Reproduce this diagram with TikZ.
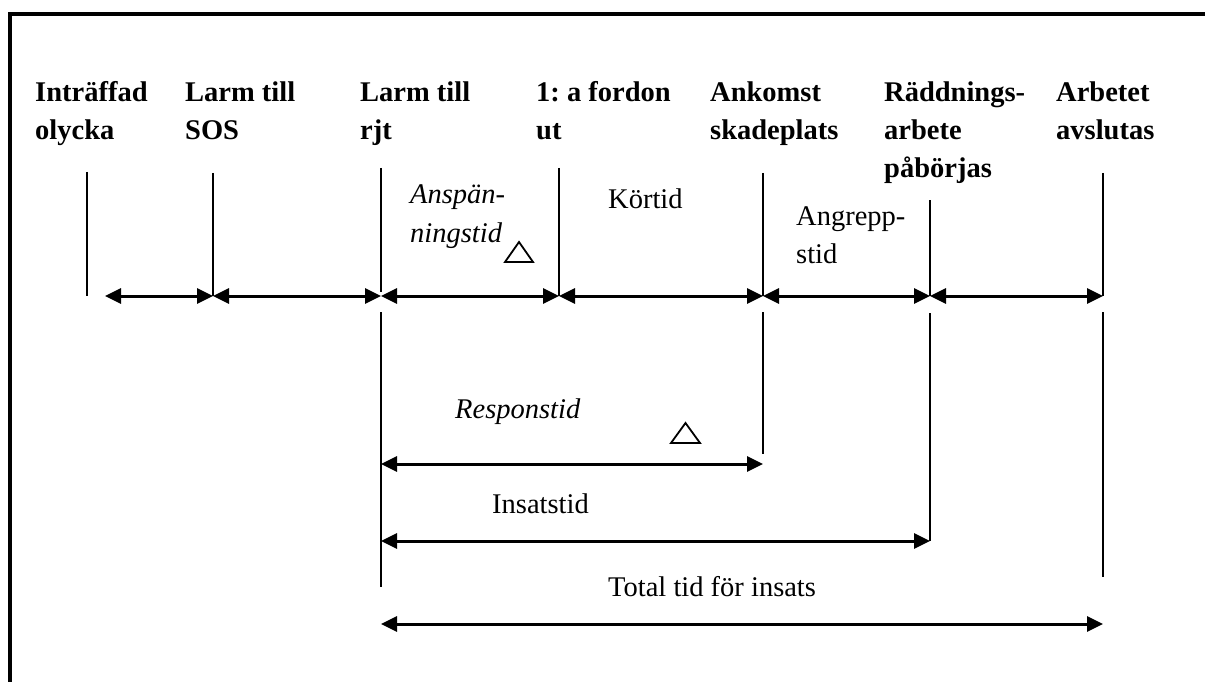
\documentclass[tikz,border=0pt]{standalone}
\usepackage{fontspec}
\setmainfont{Liberation Serif}
\usetikzlibrary{arrows.meta}
\frenchspacing
\tikzset{
  hdr/.style={font=\fontsize{28.5}{38}\selectfont\bfseries, anchor=base west, inner sep=0pt},
  lbl/.style={font=\fontsize{28.5}{38}\selectfont, anchor=base west, inner sep=0pt},
  ilbl/.style={font=\fontsize{28.5}{38}\selectfont\itshape, anchor=base west, inner sep=0pt},
  tick/.style={line width=2.2pt},
  thintick/.style={line width=1.1pt},
  span/.style={line width=3pt, {Triangle[length=16pt,width=15pt]}-{Triangle[length=16pt,width=15pt]}},
  frame/.style={line width=3.4pt},
  delta/.style={line width=1.8pt, line join=miter}
}
\begin{document}
\begin{tikzpicture}[x=1pt,y=-1pt]
\useasboundingbox (0,0) rectangle (1205,682);
% frame
\coordinate (fb) at (10,682);
\coordinate (fc) at (10,14);
\coordinate (fr) at (1205,14);
\draw[frame] (fb) -- (fc) -- (fr);

% headers
\node[hdr] (h1a) at (35,102) {Inträffad};
\node[hdr] (h1b) at (35,140) {olycka};
\node[hdr] (h2a) at (185,102) {Larm till};
\node[hdr] (h2b) at (185,140) {SOS};
\node[hdr] (h3a) at (360,102) {Larm till};
\node[hdr] (h3b) at (360,140) {rjt};
\node[hdr] (h4a) at (536,102) {1: a fordon};
\node[hdr] (h4b) at (536,140) {ut};
\node[hdr] (h5a) at (710,102) {Ankomst};
\node[hdr] (h5b) at (710,140) {skadeplats};
\node[hdr] (h6a) at (884,102) {Räddnings-};
\node[hdr] (h6b) at (884,140) {arbete};
\node[hdr] (h6c) at (884,178) {påbörjas};
\node[hdr] (h7a) at (1056,102) {Arbetet};
\node[hdr] (h7b) at (1056,140) {avslutas};

% upper ticks
\coordinate (u1t) at (87,172);   \coordinate (u1b) at (87,296);
\coordinate (u2t) at (213,173);  \coordinate (u2b) at (213,296);
\coordinate (u3t) at (381,168);  \coordinate (u3b) at (381,292);
\coordinate (u4t) at (559,168);  \coordinate (u4b) at (559,296);
\coordinate (u5t) at (763,173);  \coordinate (u5b) at (763,296);
\coordinate (u6t) at (930,200);  \coordinate (u6b) at (930,296);
\coordinate (u7t) at (1103,173); \coordinate (u7b) at (1103,296);
\draw[tick] (u1t) -- (u1b);
\draw[tick] (u2t) -- (u2b);
\draw[tick] (u3t) -- (u3b);
\draw[tick] (u4t) -- (u4b);
\draw[tick] (u5t) -- (u5b);
\draw[thintick] (u6t) -- (u6b);
\draw[tick] (u7t) -- (u7b);

% main arrows row
\coordinate (r0) at (105,296);
\coordinate (r1) at (213,296);
\coordinate (r2) at (381,296);
\coordinate (r3) at (559,296);
\coordinate (r4) at (763,296);
\coordinate (r5) at (930,296);
\coordinate (r6) at (1103,296);
\draw[span] (r0) -- (r1);
\draw[span] (r1) -- (r2);
\draw[span] (r2) -- (r3);
\draw[span] (r3) -- (r4);
\draw[span] (r4) -- (r5);
\draw[span] (r5) -- (r6);

% lower ticks
\coordinate (l3t) at (381,312);  \coordinate (l3b) at (381,587);
\coordinate (l5t) at (763,312);  \coordinate (l5b) at (763,454);
\coordinate (l6t) at (930,313);  \coordinate (l6b) at (930,541);
\coordinate (l7t) at (1103,312); \coordinate (l7b) at (1103,577);
\draw[tick] (l3t) -- (l3b);
\draw[tick] (l5t) -- (l5b);
\draw[tick] (l6t) -- (l6b);
\draw[tick] (l7t) -- (l7b);

% interval labels
\node[ilbl] (ansp1) at (410,203) {Anspän-};
\node[ilbl] (ansp2) at (410,242) {ningstid};
\node[lbl] (kort) at (608,208) {Körtid};
\node[lbl] (angr1) at (796,225) {Angrepp-};
\node[lbl] (angr2) at (796,263) {stid};

\draw[delta] (505,262) -- (519,242) -- (533,262) -- cycle;

% responstid
\coordinate (rs) at (381,464);
\coordinate (re) at (763,464);
\node[ilbl] (resp) at (455,418) {Responstid};
\draw[delta] (671,443) -- (685.5,423) -- (700,443) -- cycle;
\draw[span] (rs) -- (re);

% insatstid
\coordinate (is) at (381,541);
\coordinate (ie) at (930,541);
\node[lbl] (ins) at (492,513) {Insatstid};
\draw[span] (is) -- (ie);

% total
\coordinate (ts) at (381,624);
\coordinate (te) at (1103,624);
\node[lbl] (tot) at (608,596) {Total tid för insats};
\draw[span] (ts) -- (te);
\end{tikzpicture}
\end{document}
